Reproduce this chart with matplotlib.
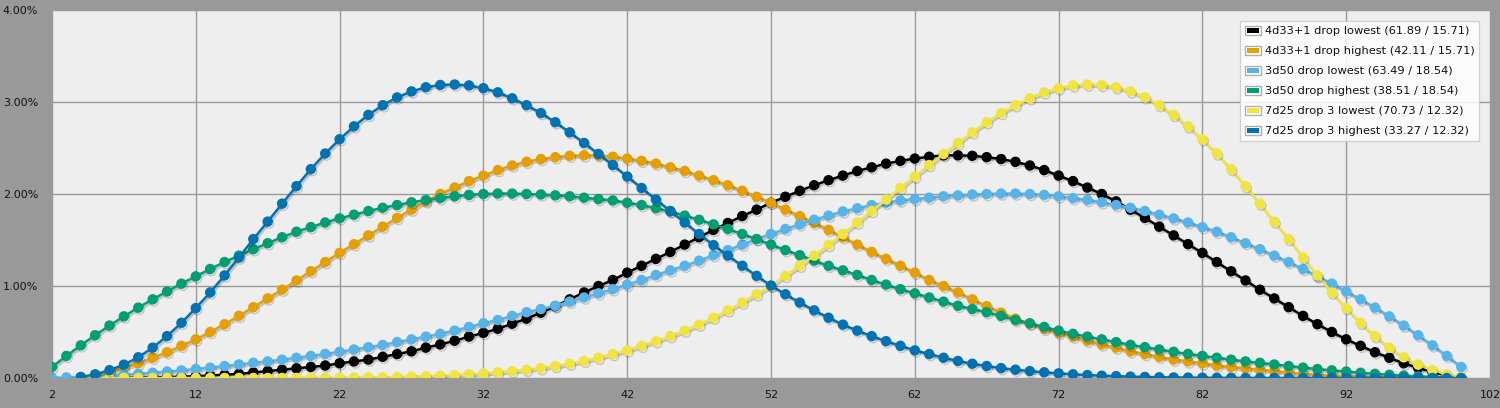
import matplotlib
matplotlib.use('Agg')
import matplotlib.pyplot as plt
import matplotlib.patheffects as pe
from matplotlib.patches import Patch, Rectangle
from matplotlib.legend_handler import HandlerBase
from matplotlib.ticker import FuncFormatter

# Sommes possibles (abscisses)
x_4d33 = list(range(4, 101))
x_3d50 = list(range(2, 101))
x_7d25 = list(range(4, 101))

# Probabilités en %
d4d33_lowest = [
    0.0001, 0.0005, 0.001, 0.002, 0.004, 0.007, 0.01,
    0.014, 0.02, 0.027, 0.035, 0.045, 0.06, 0.075, 0.09, 0.105, 0.12,
    0.135, 0.16, 0.18, 0.20, 0.23, 0.26, 0.29, 0.33, 0.365, 0.405,
    0.45, 0.49, 0.535, 0.59, 0.645, 0.71, 0.78, 0.855, 0.93, 1.0,
    1.065, 1.145, 1.22, 1.295, 1.37, 1.45, 1.53, 1.61, 1.685, 1.76,
    1.83, 1.905, 1.97, 2.035, 2.095, 2.15, 2.20, 2.25, 2.29, 2.33,
    2.36, 2.385, 2.405, 2.42, 2.42, 2.415, 2.40, 2.38, 2.35, 2.31,
    2.26, 2.20, 2.14, 2.07, 2.00, 1.92, 1.83, 1.74, 1.645, 1.55,
    1.455, 1.36, 1.26, 1.16, 1.06, 0.96, 0.865, 0.77, 0.675, 0.585,
    0.50, 0.42, 0.35, 0.28, 0.22, 0.16, 0.11, 0.065, 0.03, 0.003,
]
d4d33_highest = [
    0.003, 0.03, 0.065, 0.11, 0.16, 0.22, 0.28, 0.35, 0.42, 0.50,
    0.585, 0.675, 0.77, 0.865, 0.96, 1.06, 1.16, 1.26, 1.36, 1.455,
    1.55, 1.645, 1.74, 1.83, 1.92, 2.00, 2.07, 2.14, 2.20, 2.26,
    2.31, 2.35, 2.38, 2.40, 2.415, 2.42, 2.42, 2.405, 2.385, 2.36,
    2.33, 2.29, 2.25, 2.20, 2.15, 2.095, 2.035, 1.97, 1.905, 1.83,
    1.76, 1.685, 1.61, 1.53, 1.45, 1.37, 1.295, 1.22, 1.145, 1.065,
    1.0, 0.93, 0.855, 0.78, 0.71, 0.645, 0.59, 0.535, 0.49, 0.45,
    0.405, 0.365, 0.33, 0.29, 0.26, 0.23, 0.20, 0.18, 0.16, 0.135,
    0.12, 0.105, 0.09, 0.075, 0.06, 0.045, 0.035, 0.027, 0.02, 0.014,
    0.01, 0.007, 0.004, 0.002, 0.001, 0.0005, 0.0001,
]
d3d50_lowest = [
    0.002, 0.006, 0.011, 0.018, 0.026, 0.035, 0.045, 0.057, 0.07,
    0.083, 0.097, 0.113, 0.13, 0.147, 0.165, 0.18, 0.20, 0.22, 0.24,
    0.262, 0.285, 0.31, 0.335, 0.36, 0.39, 0.42, 0.45, 0.48, 0.515,
    0.555, 0.595, 0.63, 0.675, 0.715, 0.75, 0.785, 0.83, 0.875, 0.92,
    0.965, 1.015, 1.065, 1.12, 1.17, 1.22, 1.275, 1.335, 1.39, 1.45,
    1.51, 1.565, 1.62, 1.67, 1.72, 1.765, 1.81, 1.845, 1.88, 1.905,
    1.93, 1.945, 1.96, 1.975, 1.985, 1.995, 2.00, 2.005, 2.005, 2.00,
    1.99, 1.975, 1.955, 1.935, 1.91, 1.88, 1.85, 1.815, 1.775, 1.735,
    1.69, 1.64, 1.59, 1.53, 1.465, 1.40, 1.33, 1.26, 1.185, 1.105,
    1.025, 0.94, 0.855, 0.765, 0.67, 0.57, 0.465, 0.355, 0.24, 0.12,
]
d3d50_highest = [
    0.12, 0.24, 0.355, 0.465, 0.57, 0.67, 0.765, 0.855, 0.94, 1.025,
    1.105, 1.185, 1.26, 1.33, 1.40, 1.465, 1.53, 1.59, 1.64, 1.69,
    1.735, 1.775, 1.815, 1.85, 1.88, 1.91, 1.935, 1.955, 1.975, 1.99,
    2.00, 2.005, 2.005, 2.00, 1.995, 1.985, 1.975, 1.96, 1.945, 1.93,
    1.905, 1.88, 1.845, 1.81, 1.765, 1.72, 1.67, 1.62, 1.565, 1.51,
    1.45, 1.39, 1.335, 1.275, 1.22, 1.17, 1.12, 1.065, 1.015, 0.965,
    0.92, 0.875, 0.83, 0.785, 0.75, 0.715, 0.675, 0.63, 0.595, 0.555,
    0.515, 0.48, 0.45, 0.42, 0.39, 0.36, 0.335, 0.31, 0.285, 0.262,
    0.24, 0.22, 0.20, 0.18, 0.165, 0.147, 0.13, 0.113, 0.097, 0.083,
    0.07, 0.057, 0.045, 0.035, 0.026, 0.018, 0.011, 0.006, 0.002,
]
d7d25_lowest = [
    0.0, 0.0, 0.0, 0.0, 0.0, 0.0, 0.0,
    0.0, 0.0001, 0.0001, 0.0002, 0.0003, 0.0004, 0.0006, 0.0008, 0.0012, 0.0017,
    0.0024, 0.0033, 0.0045, 0.006, 0.008, 0.011, 0.015, 0.02, 0.025, 0.032,
    0.04, 0.05, 0.062, 0.075, 0.09, 0.107, 0.13, 0.155, 0.185, 0.22,
    0.26, 0.30, 0.35, 0.40, 0.455, 0.515, 0.58, 0.655, 0.735, 0.82,
    0.91, 1.005, 1.11, 1.22, 1.33, 1.445, 1.565, 1.69, 1.815, 1.94,
    2.065, 2.19, 2.315, 2.435, 2.555, 2.67, 2.78, 2.88, 2.965, 3.04,
    3.105, 3.15, 3.18, 3.19, 3.185, 3.16, 3.115, 3.05, 2.965, 2.86,
    2.735, 2.595, 2.44, 2.27, 2.085, 1.895, 1.70, 1.51, 1.31, 1.115,
    0.93, 0.76, 0.60, 0.455, 0.33, 0.225, 0.145, 0.085, 0.04, 0.01,
]
d7d25_highest = [
    0.01, 0.04, 0.085, 0.145, 0.225, 0.33, 0.455, 0.60, 0.76, 0.93,
    1.115, 1.31, 1.51, 1.70, 1.895, 2.085, 2.27, 2.44, 2.595, 2.735,
    2.86, 2.965, 3.05, 3.115, 3.16, 3.185, 3.19, 3.18, 3.15, 3.105,
    3.04, 2.965, 2.88, 2.78, 2.67, 2.555, 2.435, 2.315, 2.19, 2.065,
    1.94, 1.815, 1.69, 1.565, 1.445, 1.33, 1.22, 1.11, 1.005, 0.91,
    0.82, 0.735, 0.655, 0.58, 0.515, 0.455, 0.40, 0.35, 0.30, 0.26,
    0.22, 0.185, 0.155, 0.13, 0.107, 0.09, 0.075, 0.062, 0.05, 0.04,
    0.032, 0.025, 0.02, 0.015, 0.011, 0.008, 0.006, 0.0045, 0.0033, 0.0024,
    0.0017, 0.0012, 0.0008, 0.0006, 0.0004, 0.0003, 0.0002, 0.0001, 0.0001, 0.0,
    0.0, 0.0, 0.0, 0.0, 0.0, 0.0, 0.0,
]

labels = [
    '4d33+1 drop lowest (61.89 / 15.71)',
    '4d33+1 drop highest (42.11 / 15.71)',
    '3d50 drop lowest (63.49 / 18.54)',
    '3d50 drop highest (38.51 / 18.54)',
    '7d25 drop 3 lowest (70.73 / 12.32)',
    '7d25 drop 3 highest (33.27 / 12.32)',
]
colors = ['#000000', '#E69F00', '#56B4E9', '#009E73', '#F0E442', '#0072B2']
series = [
    (x_4d33, d4d33_lowest),
    (x_4d33, d4d33_highest),
    (x_3d50, d3d50_lowest),
    (x_3d50, d3d50_highest),
    (x_7d25, d7d25_lowest),
    (x_7d25, d7d25_highest),
]


class CadreHandler(HandlerBase):
    """Carré de couleur avec bord gris et liseré blanc"""

    def create_artists(self, legend, orig_handle, xdescent, ydescent,
                       width, height, fontsize, trans):
        outer = Rectangle((-xdescent, -ydescent), width, height,
                          facecolor='white', edgecolor='#b0b0b0', lw=1.0,
                          transform=trans)
        inner = Rectangle((-xdescent + 1.6, -ydescent + 1.6), width - 3.2, height - 3.2,
                          facecolor=orig_handle.get_facecolor(), edgecolor='none',
                          transform=trans)
        return [outer, inner]


W, H = 1500, 408
fig = plt.figure(figsize=(W / 100, H / 100), dpi=100, facecolor='#999999')
ax = fig.add_axes([52 / W, 1 - 378 / H, (1490 - 52) / W, (378 - 10) / H])
ax.set_facecolor('#eeeeee')
for sp in ax.spines.values():
    sp.set_visible(False)

ax.grid(True, color='#999999', linewidth=1.0)
ax.set_axisbelow(True)

ombre = [pe.SimpleLineShadow(offset=(1.0, -1.5), shadow_color='#000000', alpha=0.18),
         pe.Normal()]
for (xs, ys), color in zip(series, colors):
    ax.plot(xs, ys, color=color, linewidth=1.8, marker='o', markersize=6.5,
            markeredgecolor=color, path_effects=ombre)

ax.set_xlim(2, 102)
ax.set_ylim(0, 4)
ax.set_xticks(range(2, 103, 10))
ax.set_yticks([0, 1, 2, 3, 4])
ax.yaxis.set_major_formatter(FuncFormatter(lambda v, p: f'{v:.2f}%'))
ax.tick_params(length=0, labelsize=8, labelcolor='#111111')
ax.tick_params(axis='y', pad=10)
ax.tick_params(axis='x', pad=9)

handles = [Patch(facecolor=c) for c in colors]
leg = ax.legend(handles, labels, loc='upper right',
                bbox_to_anchor=(1479 / W, 1 - 21 / H), bbox_transform=fig.transFigure,
                borderaxespad=0, fontsize=8.2, frameon=True, fancybox=False,
                framealpha=0.85, edgecolor='#cccccc', facecolor='#ffffff',
                handlelength=1.45, handleheight=0.9, handletextpad=0.3,
                labelspacing=0.82, borderpad=0.4,
                handler_map={Patch: CadreHandler()})
leg.get_frame().set_linewidth(1.0)
for t in leg.get_texts():
    t.set_color('#111111')

fig.savefig('out.png', dpi=100, facecolor=fig.get_facecolor())
